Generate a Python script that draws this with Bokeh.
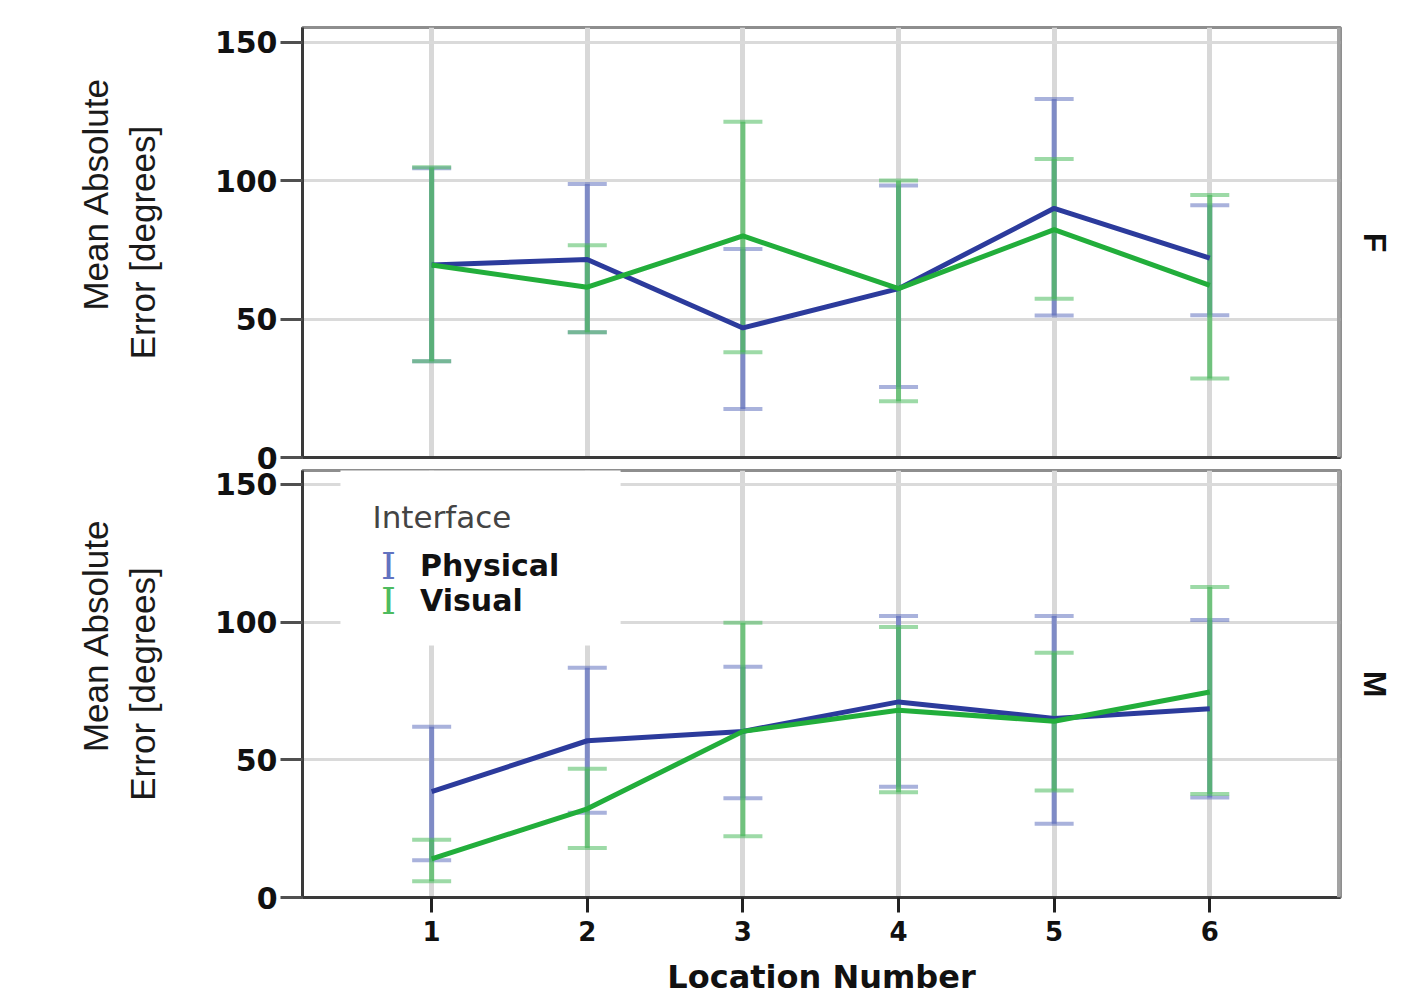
from bokeh.plotting import figure
from bokeh.models import Whisker, TeeHead, ColumnDataSource, Label, Span, BoxAnnotation, FixedTicker, Range1d, Title
from bokeh.layouts import column
from bokeh.embed import file_html
from bokeh.resources import INLINE

# ---------------- data ----------------
locations = [1, 2, 3, 4, 5, 6]
y_ticks = [0, 50, 100, 150]
panel_labels = ["F", "M"]
series_names = ["Physical", "Visual"]

F_phys_mean = [69.5, 71.5, 46.8, 61.0, 90.0, 72.0]
F_phys_lo   = [34.8, 45.2, 17.5, 25.5, 51.3, 51.4]
F_phys_hi   = [104.5, 98.8, 75.3, 98.2, 129.5, 91.1]
F_vis_mean  = [69.5, 61.5, 80.0, 61.0, 82.3, 62.2]
F_vis_lo    = [34.8, 45.2, 38.0, 20.3, 57.3, 28.5]
F_vis_hi    = [104.8, 76.7, 121.3, 100.0, 107.8, 94.8]

M_phys_mean = [38.4, 56.9, 60.3, 71.0, 65.0, 68.5]
M_phys_lo   = [13.5, 30.8, 36.0, 40.2, 26.8, 36.3]
M_phys_hi   = [62.0, 83.4, 83.8, 102.2, 102.2, 100.7]
M_vis_mean  = [14.0, 32.2, 60.3, 68.0, 64.0, 74.6]
M_vis_lo    = [5.9, 18.0, 22.2, 38.2, 38.8, 37.6]
M_vis_hi    = [21.0, 46.7, 99.7, 98.2, 88.8, 112.7]

# ---------------- style ----------------
X_START, X_END = 0.17, 6.84
BLUE_LINE = "#2c3b9c"
GREEN_LINE = "#22ae3b"
BLUE_BAR = "#6272c0"
GREEN_BAR = "#4dbb5f"
TICK_FONT = "DejaVu Sans"
NB = "\u00a0"

def make_panel(height, border_top, border_bottom, y_end, phys, vis, facet, show_x, margin):
    p = figure(width=1410, height=height, output_backend="svg", toolbar_location=None,
               x_range=Range1d(X_START, X_END), y_range=Range1d(0, y_end),
               min_border_left=302, min_border_right=70,
               min_border_top=border_top, min_border_bottom=border_bottom,
               margin=margin)
    p.background_fill_color = "white"
    p.border_fill_color = "white"
    p.border_fill_alpha = 0.0
    p.outline_line_color = "#8e8e8e"
    p.outline_line_width = 3

    # grids
    p.xgrid.ticker = FixedTicker(ticks=locations)
    p.ygrid.ticker = FixedTicker(ticks=y_ticks)
    p.xgrid.grid_line_color = "#d8d8d8"
    p.xgrid.grid_line_width = 5
    p.ygrid.grid_line_color = "#dadada"
    p.ygrid.grid_line_width = 3

    # y axis
    p.yaxis.ticker = FixedTicker(ticks=y_ticks)
    p.yaxis.axis_line_color = "#3a3a3a"
    p.yaxis.axis_line_width = 3
    p.yaxis.major_tick_line_color = "#505050"
    p.yaxis.major_tick_line_width = 3
    p.yaxis.major_tick_out = 22
    p.yaxis.major_tick_in = 0
    p.yaxis.minor_tick_line_color = None
    p.yaxis.major_label_standoff = 3
    p.yaxis.major_label_text_font = TICK_FONT
    p.yaxis.major_label_text_font_style = "bold"
    p.yaxis.major_label_text_font_size = "30px"
    p.yaxis.major_label_text_color = "#111111"
    p.yaxis.axis_label = NB * 10 + "Mean Absolute\nError [degrees]"
    p.yaxis.axis_label_text_font = "Liberation Sans"
    p.yaxis.axis_label_text_font_style = "normal"
    p.yaxis.axis_label_text_font_size = "35px"
    p.yaxis.axis_label_text_color = "#1a1a1a"
    p.yaxis.axis_label_standoff = 50

    # x axis
    p.xaxis.axis_line_color = "#3a3a3a"
    p.xaxis.axis_line_width = 3
    p.xaxis.minor_tick_line_color = None
    if show_x:
        p.xaxis.ticker = FixedTicker(ticks=locations)
        p.xaxis.major_tick_line_color = "#222222"
        p.xaxis.major_tick_line_width = 3
        p.xaxis.major_tick_out = 15
        p.xaxis.major_tick_in = 0
        p.xaxis.major_label_standoff = 8
        p.xaxis.major_label_text_font = TICK_FONT
        p.xaxis.major_label_text_font_style = "bold"
        p.xaxis.major_label_text_font_size = "26px"
        p.xaxis.major_label_text_color = "#111111"
        p.xaxis.axis_label = "Location Number"
        p.xaxis.axis_label_text_font = TICK_FONT
        p.xaxis.axis_label_text_font_style = "bold"
        p.xaxis.axis_label_text_font_size = "32px"
        p.xaxis.axis_label_text_color = "#111111"
        p.xaxis.axis_label_standoff = 14
    else:
        p.xaxis.ticker = FixedTicker(ticks=[])
        p.xaxis.major_tick_line_color = None
        p.xaxis.major_tick_out = 0
        p.xaxis.major_label_standoff = 0

    # thicker right border
    p.add_layout(Span(location=X_END, dimension="height", line_color="#a3a3a3", line_width=7))

    # error bars and lines
    for (mean, lo, hi), bar_col in ((phys, BLUE_BAR), (vis, GREEN_BAR)):
        src = ColumnDataSource(dict(x=locations, mean=mean, lo=lo, hi=hi))
        w = Whisker(source=src, base="x", upper="hi", lower="lo", dimension="height",
                    line_color=bar_col, line_width=5, line_alpha=0.75, level="underlay",
                    upper_head=TeeHead(size=39, line_color=bar_col, line_width=4, line_alpha=0.55),
                    lower_head=TeeHead(size=39, line_color=bar_col, line_width=4, line_alpha=0.55))
        p.add_layout(w)
    for (mean, lo, hi), line_col in ((phys, BLUE_LINE), (vis, GREEN_LINE)):
        src = ColumnDataSource(dict(x=locations, mean=mean))
        p.line("x", "mean", source=src, line_color=line_col, line_width=5)

    # facet strip label (reads top-to-bottom on the right side)
    p.add_layout(Title(text=facet, align="center", standoff=32,
                       text_font="Liberation Sans", text_font_style="bold",
                       text_font_size="32px", text_color="#111111"), "right")
    return p

top = make_panel(490, 27, 33, 155.3, (F_phys_mean, F_phys_lo, F_phys_hi),
                 (F_vis_mean, F_vis_lo, F_vis_hi), panel_labels[0], False, (0, 0, 0, 0))
bot = make_panel(543, 15, 100, 155.0, (M_phys_mean, M_phys_lo, M_phys_hi),
                 (M_vis_mean, M_vis_lo, M_vis_hi), panel_labels[1], True, (-35, 0, 0, 0))

# legend (drawn in the lower panel)
bot.add_layout(BoxAnnotation(left=0.414, right=2.214, bottom=91.5, top=160,
                             fill_color="white", fill_alpha=1.0, line_color=None))
bot.add_layout(Label(x=0.62, y=138, text="Interface", text_baseline="middle",
                     text_font=TICK_FONT, text_font_size="31px", text_color="#444444"))
for name, yy, col in ((series_names[0], 120.5, BLUE_BAR), (series_names[1], 107.8, GREEN_BAR)):
    bot.add_layout(Label(x=0.723, y=yy, text="I", text_align="center", text_baseline="middle",
                         text_font="DejaVu Serif", text_font_size="38px", text_color=col))
    bot.add_layout(Label(x=0.925, y=yy, text=name, text_baseline="middle",
                         text_font=TICK_FONT, text_font_style="bold",
                         text_font_size="30px", text_color="#111111"))

layout = column(top, bot, spacing=0)
open("out.html", "w").write(file_html(layout, INLINE))
